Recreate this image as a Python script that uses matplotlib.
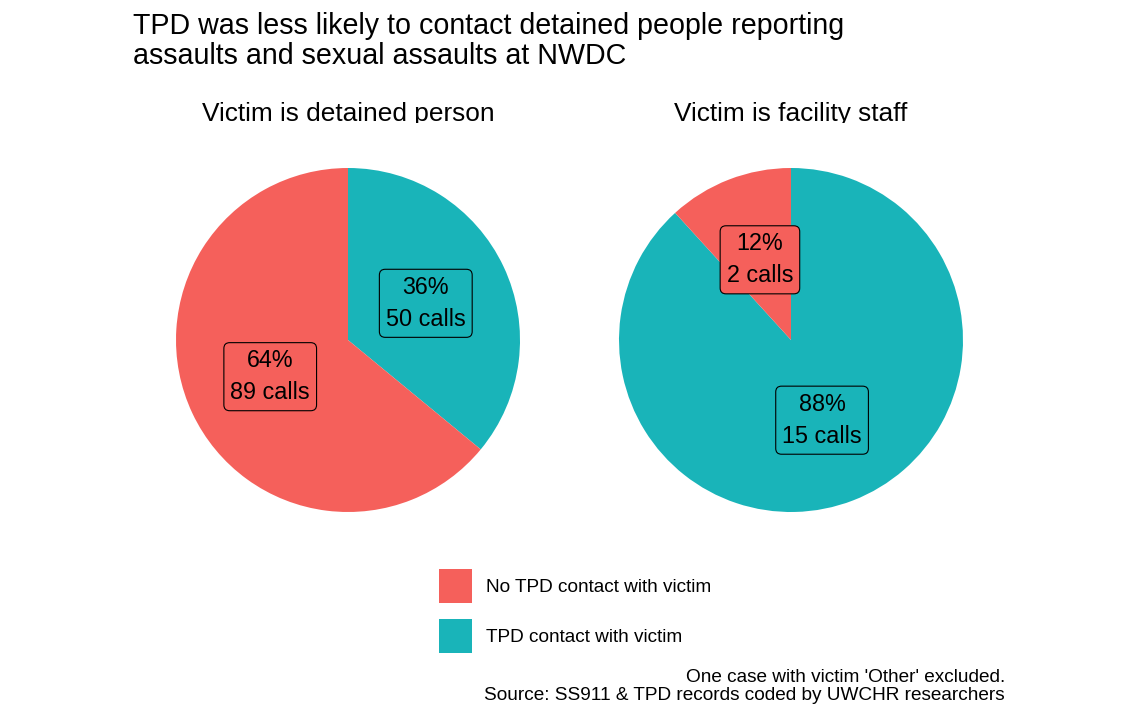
import matplotlib
matplotlib.use("Agg")
import matplotlib.pyplot as plt
import numpy as np
from matplotlib.patches import Patch
from matplotlib.transforms import Bbox

plt.rcParams['font.family'] = ['Liberation Sans', 'DejaVu Sans']

# data
facets = ["Victim is detained person", "Victim is facility staff"]
categories = ["TPD contact with victim", "No TPD contact with victim"]
calls = [[50, 89], [15, 2]]
pcts = [[36, 64], [88, 12]]
colors = {"No TPD contact with victim": "#F5605B", "TPD contact with victim": "#19B4B9"}
legend_order = ["No TPD contact with victim", "TPD contact with victim"]

title = "TPD was less likely to contact detained people reporting\nassaults and sexual assaults at NWDC"
caption = "One case with victim 'Other' excluded.\nSource: SS911 & TPD records coded by UWCHR researchers"

W, H = 1140, 704
fig = plt.figure(figsize=(W / 100, H / 100), dpi=100)

centers = [348, 791]
R = 172
for k, cx in enumerate(centers):
    ax = fig.add_axes([(cx - R) / W, (H - 340 - R) / H, 2 * R / W, 2 * R / H])
    cols = [colors[c] for c in categories]
    wedges, _ = ax.pie(calls[k], colors=cols, startangle=90, counterclock=False,
                       radius=1, wedgeprops=dict(linewidth=0))
    # labels sit halfway out along each slice
    for w, n, p, c in zip(wedges, calls[k], pcts[k], cols):
        ang = np.deg2rad((w.theta1 + w.theta2) / 2)
        x, y = 0.5 * np.cos(ang), 0.5 * np.sin(ang)
        ax.text(x, y, f"{p}%\n{n} calls", ha="center", va="center", fontsize=16.8,
                linespacing=1.5,
                bbox=dict(boxstyle="round,pad=0.28,rounding_size=0.25", fc=c, ec="black", lw=0.8))
    ax.set_xlim(-1, 1)
    ax.set_ylim(-1, 1)
    ax.set_aspect("equal")
    ax.axis("off")
    t = fig.text(cx / W, (H - 121) / H, facets[k], ha="center", va="baseline", fontsize=18.9)
    # strip clips the descenders, like the original
    t.set_clip_box(Bbox.from_extents(0, H - 123, W, H))
    t.set_clip_on(True)

fig.text(133 / W, (H - 64) / H, title, ha="left", va="baseline", fontsize=20.6, linespacing=1.08)

handles = [Patch(facecolor=colors[c], edgecolor="none") for c in legend_order]
fig.legend(handles, legend_order,
           loc="upper left", bbox_to_anchor=(439 / W, (H - 569) / H), frameon=False,
           fontsize=13.7, handlelength=1.74, handleheight=2.38, handletextpad=0.74,
           labelspacing=0.84, borderpad=0, borderaxespad=0)

fig.text(1005 / W, (H - 700) / H, caption, ha="right", va="baseline", fontsize=13.7, linespacing=1.08)

fig.savefig("out.png", dpi=100)
